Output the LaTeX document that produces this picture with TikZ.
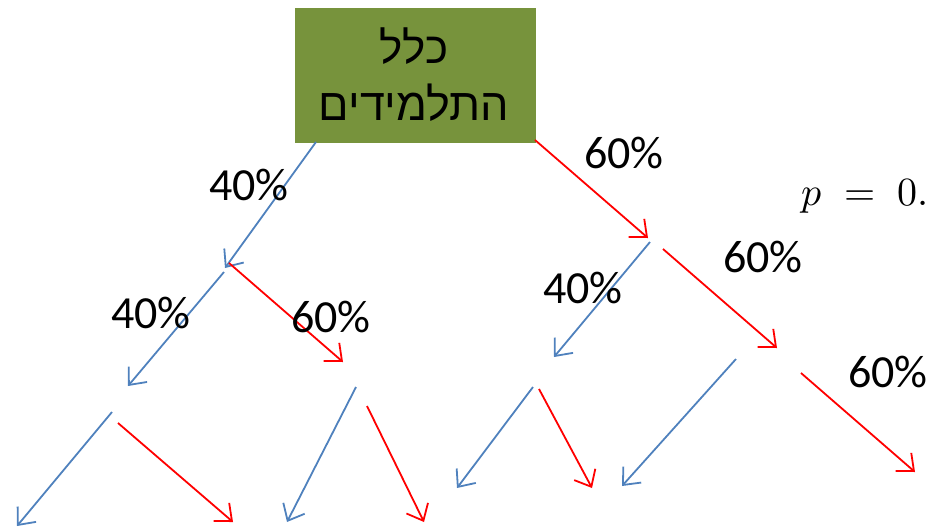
\documentclass[tikz,border=0pt]{standalone}
\usepackage{fontspec}
\usepackage{unicode-math}
\setmathfont{Latin Modern Math}
\setmainfont{Carlito}
\newfontfamily\hebfont[Script=Hebrew]{Liberation Sans}
\usetikzlibrary{arrows.meta}
\TeXXeTstate=1
\definecolor{boxgreen}{HTML}{77933C}
\definecolor{arrblue}{HTML}{4F81BD}
\definecolor{arrred}{HTML}{FF0000}
\begin{document}
\begin{tikzpicture}[x=1pt,y=-1pt,
  tip/.style={-{Straight Barb[length=14pt,width=24pt,line width=1.8pt]}},
  barrow/.style={tip,draw=arrblue,line width=1.8pt},
  rarrow/.style={tip,draw=arrred,line width=1.8pt},
  pct/.style={font=\fontsize{46}{50}\selectfont,inner sep=0pt,anchor=base}]
\useasboundingbox (0,0) rectangle (927,528);
\node[fill=boxgreen,minimum width=241pt,minimum height=135pt,inner sep=0pt] (box) at (415.5,75.5) {};
\node[inner sep=0pt,anchor=base] (t1) at (414,63) {\hebfont\fontsize{44}{50}\selectfont\beginR כלל\endR};
\node[inner sep=0pt,anchor=base] (t2) at (414,120) {\hebfont\fontsize{45}{50}\selectfont\beginR התלמידים\endR};
% coordinates
\coordinate (a1) at (316,142); \coordinate (a2) at (225,268);
\coordinate (b1) at (535,140); \coordinate (b2) at (648,238);
\coordinate (c1) at (224,272); \coordinate (c2) at (128,386);
\coordinate (d1) at (229,263); \coordinate (d2) at (343,362);
\coordinate (e1) at (650,242); \coordinate (e2) at (554,357);
\coordinate (f1) at (663,249); \coordinate (f2) at (777,348);
\coordinate (g1) at (112,412); \coordinate (g2) at (17,526);
\coordinate (h1) at (118,423); \coordinate (h2) at (233,522);
\coordinate (i1) at (356,387); \coordinate (i2) at (287,522);
\coordinate (j1) at (367,406); \coordinate (j2) at (424,522);
\coordinate (k1) at (533,387); \coordinate (k2) at (457,488);
\coordinate (l1) at (539,389); \coordinate (l2) at (592,488);
\coordinate (m1) at (736,359); \coordinate (m2) at (622,486);
\coordinate (n1) at (801,373); \coordinate (n2) at (915,472);
\draw[barrow] (a1) -- (a2);
\draw[rarrow] (b1) -- (b2);
\draw[barrow] (c1) -- (c2);
\draw[rarrow] (d1) -- (d2);
\draw[barrow] (e1) -- (e2);
\draw[rarrow] (f1) -- (f2);
\draw[barrow] (g1) -- (g2);
\draw[rarrow] (h1) -- (h2);
\draw[barrow] (i1) -- (i2);
\draw[rarrow] (j1) -- (j2);
\draw[barrow] (k1) -- (k2);
\draw[rarrow] (l1) -- (l2);
\draw[barrow] (m1) -- (m2);
\draw[rarrow] (n1) -- (n2);
% labels
\node[pct] (p1) at (249,200) {40\%};
\node[pct] (p2) at (624,168) {60\%};
\node[pct] (p3) at (151,328) {40\%};
\node[pct] (p4) at (331,332) {60\%};
\node[pct] (p5) at (583,303) {40\%};
\node[pct] (p6) at (763,272) {60\%};
\node[pct] (p7) at (888,387) {60\%};
\node[inner sep=0pt,anchor=base west] (pv) at (801,205) {\fontsize{40}{44}\selectfont$p\;=\;0.$};
\end{tikzpicture}
\end{document}
